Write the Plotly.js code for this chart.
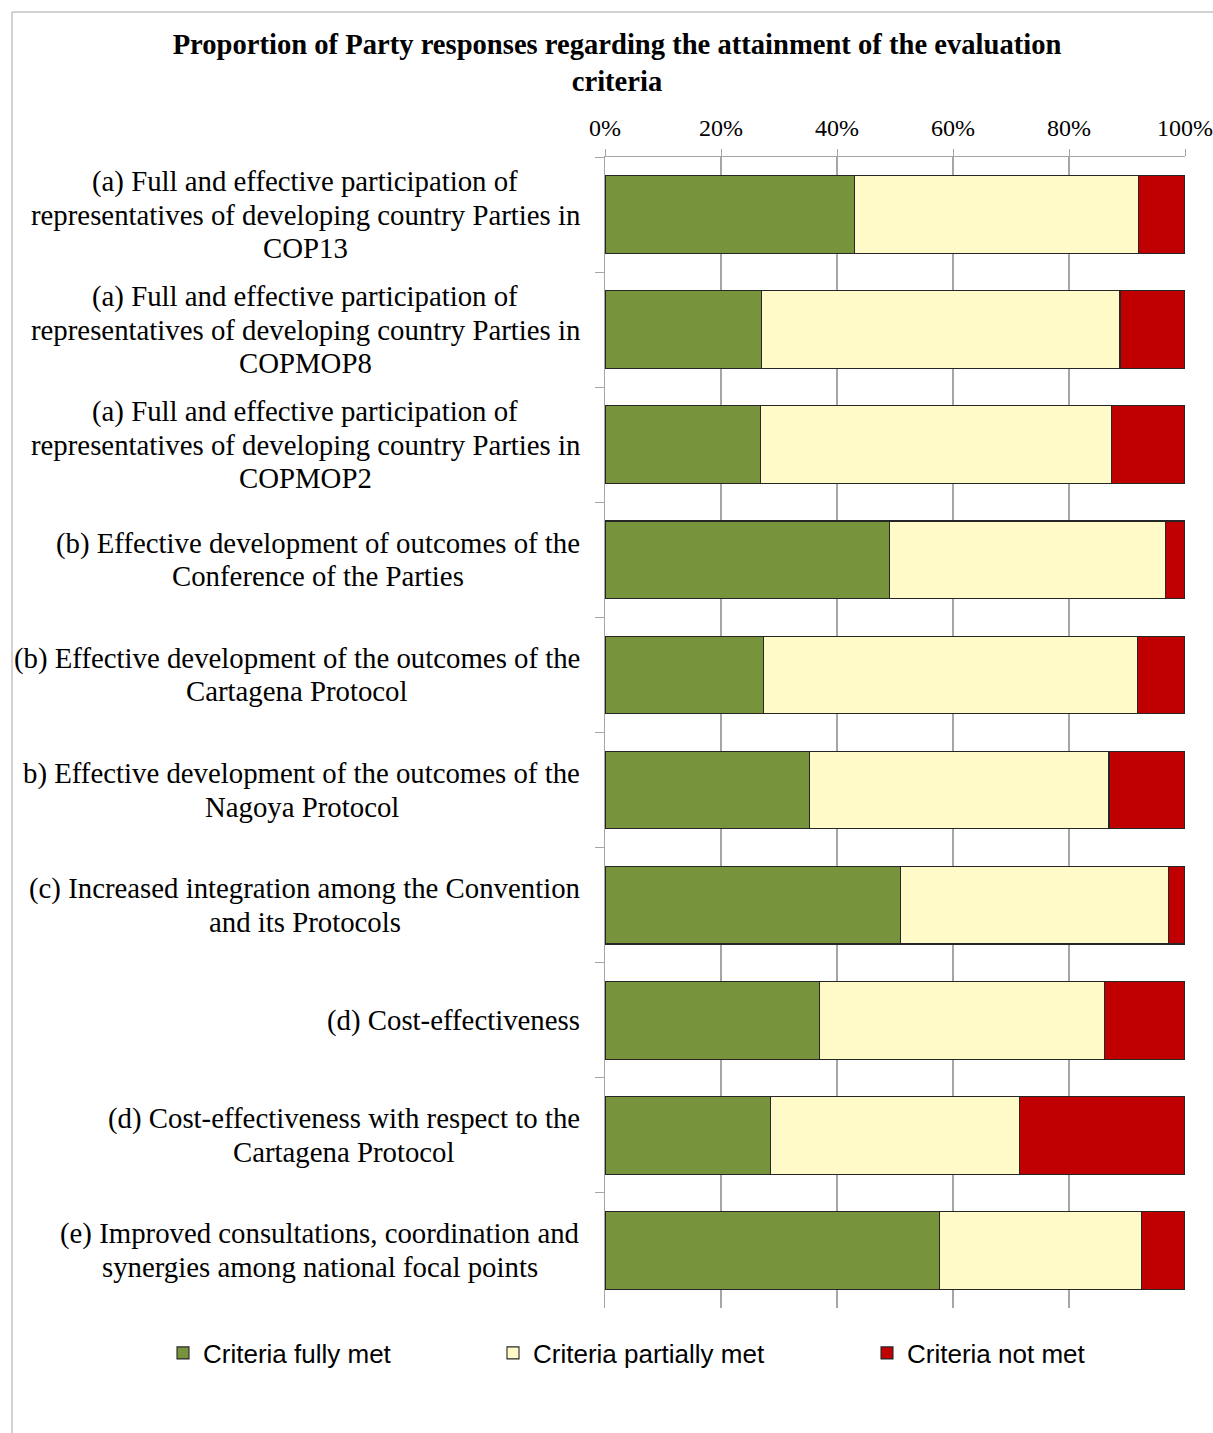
<!DOCTYPE html>
<html>
<head>
<meta charset="utf-8">
<script src="https://cdn.plot.ly/plotly-3.0.1.min.js"></script>
<style>
  html, body { margin: 0; padding: 0; background: #ffffff; }
  #chart { width: 1213px; height: 1433px; }
</style>
</head>
<body>
<div id="chart"></div>
<script>
// ---- data ----
const categories = [
  "(a) Full and effective participation of<br>representatives of developing country Parties in<br>COP13",
  "(a) Full and effective participation of<br>representatives of developing country Parties in<br>COPMOP8",
  "(a) Full and effective participation of<br>representatives of developing country Parties in<br>COPMOP2",
  "(b) Effective development of outcomes of the<br>Conference of the Parties",
  "(b) Effective development of the outcomes of the<br>Cartagena Protocol",
  "b) Effective development of the outcomes of the<br>Nagoya Protocol",
  "(c) Increased integration among the Convention<br>and its Protocols",
  "(d) Cost-effectiveness",
  "(d) Cost-effectiveness with respect to the<br>Cartagena Protocol",
  "(e) Improved consultations, coordination and<br>synergies among national focal points"
];
const fullyMet     = [43.0, 27.0, 26.8, 49.1, 27.4, 35.3, 50.9, 37.0, 28.6, 57.7];
const partiallyMet = [49.0, 61.8, 60.5, 47.6, 64.4, 51.6, 46.2, 49.1, 42.8, 34.8];
const notMet       = [ 8.0, 11.2, 12.7,  3.3,  8.2, 13.1,  2.9, 13.9, 28.6,  7.5];
const seriesNames  = ["Criteria fully met", "Criteria partially met", "Criteria not met"];
const xTickVals    = [0, 20, 40, 60, 80, 100];
const xTickText    = ["0%", "20%", "40%", "60%", "80%", "100%"];
const chartTitle   = "Proportion of Party responses regarding the attainment of the evaluation<br>criteria";

// ---- styling ----
const serif = "'Liberation Serif', 'Times New Roman', serif";
const sans  = "'Liberation Sans', Arial, sans-serif";
const colors = ["#77933C", "#FFFAC8", "#C00000"];
const W = 1213, H = 1433;
const M = { l: 605, r: 28, t: 157, b: 125 };
const pw = W - M.l - M.r, ph = H - M.t - M.b;
const px2x = p => (p - M.l) / pw;
const py2y = p => 1 - (p - M.t) / ph;

const seriesValues = [fullyMet, partiallyMet, notMet];
const legendIds = ["legend", "legend2", "legend3"];
const traces = seriesValues.map((vals, i) => ({
  type: "bar",
  orientation: "h",
  name: seriesNames[i],
  y: categories,
  x: vals,
  marker: { color: colors[i], line: { color: "#262626", width: 1.1 } },
  legend: legendIds[i],
  hoverinfo: "name+x"
}));

const legendX = [163, 493, 867];
const legendBase = {
  orientation: "h",
  xanchor: "left",
  yanchor: "middle",
  y: py2y(1353),
  font: { family: sans, size: 26, color: "#000000" },
  bgcolor: "rgba(0,0,0,0)",
  borderwidth: 0,
  itemwidth: 30
};

const layout = {
  width: W, height: H,
  margin: M,
  paper_bgcolor: "#ffffff",
  plot_bgcolor: "#ffffff",
  barmode: "stack",
  bargap: 0.325,
  showlegend: true,
  title: {
    text: chartTitle,
    font: { family: serif, size: 28.6, color: "#000000", weight: "bold" },
    x: 617 / W, xanchor: "center",
    yref: "container", y: 1 - 53.5 / H, yanchor: "middle"
  },
  xaxis: {
    side: "top",
    range: [0, 100],
    tickmode: "array",
    tickvals: xTickVals,
    ticktext: xTickText,
    showgrid: true,
    gridcolor: "#A6A6A6",
    gridwidth: 1.2,
    zeroline: false,
    showline: true,
    linecolor: "#A6A6A6",
    linewidth: 1.2,
    ticks: "outside",
    ticklen: 7,
    tickcolor: "#A6A6A6",
    ticklabelstandoff: 3,
    tickfont: { family: serif, size: 24, color: "#000000" },
    fixedrange: true
  },
  yaxis: {
    autorange: "reversed",
    type: "category",
    showticklabels: false,
    showgrid: false,
    zeroline: false,
    showline: true,
    linecolor: "#A6A6A6",
    linewidth: 1.2,
    ticks: "outside",
    tickson: "boundaries",
    ticklen: 9,
    tickcolor: "#A6A6A6",
    fixedrange: true
  },
  legend:  Object.assign({}, legendBase, { x: px2x(legendX[0]) }),
  legend2: Object.assign({}, legendBase, { x: px2x(legendX[1]) }),
  legend3: Object.assign({}, legendBase, { x: px2x(legendX[2]) }),
  annotations: [],
  shapes: [{
    type: "rect", xref: "paper", yref: "paper", layer: "below",
    x0: px2x(12), x1: px2x(1240), y0: py2y(1460), y1: py2y(12),
    line: { color: "#A6A6A6", width: 1 }, fillcolor: "rgba(0,0,0,0)"
  }]
};

// Category labels: one annotation per text line, lines centred within each label
// block, blocks right-aligned next to the axis, 33px line pitch.
const lineStep = 33;
const labelSize = 28.8;
const rightEdge = 25; // px to the left of the plot area
const ctx = document.createElement("canvas").getContext("2d");

function build() {
  ctx.font = labelSize + "px " + serif;
  layout.annotations = [];
  categories.forEach(c => {
    const lines = c.split("<br>");
    const widths = lines.map(l => ctx.measureText(l).width);
    const maxW = Math.max.apply(null, widths);
    const n = lines.length;
    lines.forEach((ln, i) => {
      layout.annotations.push({
        xref: "paper", yref: "y",
        x: 0, xshift: -rightEdge - maxW / 2,
        y: c,
        yshift: ((n - 1) / 2 - i) * lineStep,
        text: ln,
        showarrow: false,
        xanchor: "center",
        yanchor: "middle",
        font: { family: serif, size: labelSize, color: "#000000" }
      });
    });
  });
  Plotly.newPlot("chart", traces, layout, { displayModeBar: false, staticPlot: true });
}

document.fonts.ready.then(build);
</script>
</body>
</html>
